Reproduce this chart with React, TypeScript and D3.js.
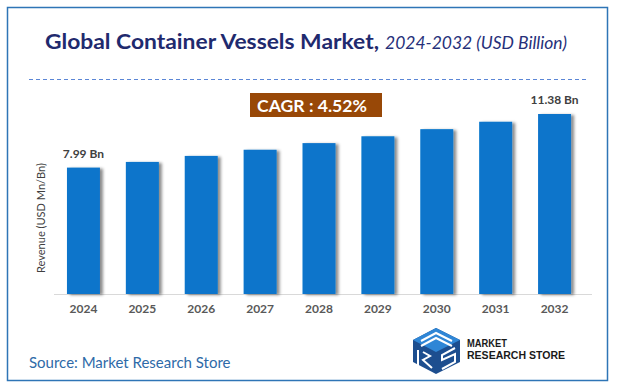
import React from "react";
import * as d3 from "d3";

const years = ["2024", "2025", "2026", "2027", "2028", "2029", "2030", "2031", "2032"];
const revenue = [7.99, 8.35, 8.73, 9.12, 9.54, 9.97, 10.42, 10.89, 11.38];
const labelled = ["2024", "2032"];
const titleMain = "Global Container Vessels Market,";
const titleSub = "2024-2032 (USD Billion)";
const cagrText = "CAGR : 4.52%";
const yAxisTitle = "Revenue (USD Mn/Bn)";
const sourceText = "Source: Market Research Store";

const W = 618;
const H = 391;
const FONT = "Lato, 'Open Sans', sans-serif";

export default function App() {
  const x = d3.scaleBand<string>().domain(years).range([54, 584]).paddingInner(0.44).paddingOuter(0.22);
  const y = d3.scaleLinear().domain([0, 11.38]).range([294, 114]);
  const bw = x.bandwidth();

  return (
    <svg width={W} height={H} style={{ position: "absolute", left: 0, top: 0 }}>
      <defs>
        <filter id="sh" x="-30%" y="-10%" width="170%" height="130%">
          <feDropShadow dx="3" dy="1" stdDeviation="1.6" floodColor="#000" floodOpacity="0.45" />
        </filter>
      </defs>
      <rect x={0} y={0} width={W} height={H} fill="#fff" />
      <rect x={7.5} y={7.5} width={600} height={373} fill="none" stroke="#2e75b6" strokeWidth={1.5} />

      <text x={45} y={49} fontFamily={FONT} fontWeight="bold" fontSize={21} fill="#1f2a6e" textLength={334} lengthAdjust="spacingAndGlyphs">
        {titleMain}
      </text>
      <text x={385} y={49} fontFamily={FONT} fontStyle="italic" fontSize={18} fill="#26307a" textLength={182} lengthAdjust="spacingAndGlyphs">
        {titleSub}
      </text>

      <line x1={29} x2={588} y1={79.5} y2={79.5} stroke="#5b86d6" strokeWidth={1.2} strokeDasharray="4,3" />

      <rect x={250} y={93} width={132} height={24} fill="#984807" />
      <text x={257} y={112} fontFamily={FONT} fontWeight="bold" fontSize={17} fill="#fff" textLength={110} lengthAdjust="spacingAndGlyphs">{cagrText}</text>

      <line x1={54} x2={592} y1={294.5} y2={294.5} stroke="#d9d9d9" strokeWidth={1} />

      {years.map((yr, i) => (
        <rect key={yr} x={x(yr)} y={y(revenue[i])} width={bw} height={294 - y(revenue[i])} fill="#0874cb" filter="url(#sh)" />
      ))}

      {years.map((yr, i) =>
        labelled.includes(yr) ? (
          <text key={"v" + yr} x={(x(yr) as number) + bw / 2} y={y(revenue[i]) - 10} textAnchor="middle" fontFamily={FONT} fontWeight="bold" fontSize={12} fill="#404040">
            {revenue[i].toFixed(2) + " Bn"}
          </text>
        ) : null
      )}

      {years.map((yr) => (
        <text key={"t" + yr} x={(x(yr) as number) + bw / 2} y={313} textAnchor="middle" fontFamily={FONT} fontWeight="bold" fontSize={12} fill="#595959">
          {yr}
        </text>
      ))}

      <text transform="translate(45,218) rotate(-90)" textAnchor="middle" fontFamily={FONT} fontSize={12} fill="#404040" textLength={110} lengthAdjust="spacingAndGlyphs">
        {yAxisTitle}
      </text>

      <text x={29} y={368} fontFamily={FONT} fontSize={15} fill="#2e6aa8">{sourceText}</text>

      <g>
        <polygon points="413,340 436,328 460,340 460,362 436,374 413,362" fill="#1d4e8f" />
        <polygon points="413,340 436,328 460,340 436,352" fill="#2f86d6" />
        <path d="M421,341 L436,333 L452,341 M421,346 L436,338 L452,346" stroke="#fff" strokeWidth={2} fill="none" />
        <path d="M418,350 L418,366 M423,352 L430,356 L423,360 L432,368" stroke="#fff" strokeWidth={2} fill="none" />
        <path d="M455,348 L442,355 L442,360 L455,354 L455,362 L442,369" stroke="#fff" strokeWidth={2} fill="none" />
        <text x={467} y={347} fontFamily="'Liberation Sans', Arial, sans-serif" fontWeight="bold" fontSize={11} fill="#1a1a1a" textLength={40} lengthAdjust="spacingAndGlyphs">MARKET</text>
        <text x={467} y={359} fontFamily="'Liberation Sans', Arial, sans-serif" fontWeight="bold" fontSize={11} fill="#1a1a1a" textLength={98} lengthAdjust="spacingAndGlyphs">RESEARCH STORE</text>
      </g>
    </svg>
  );
}
